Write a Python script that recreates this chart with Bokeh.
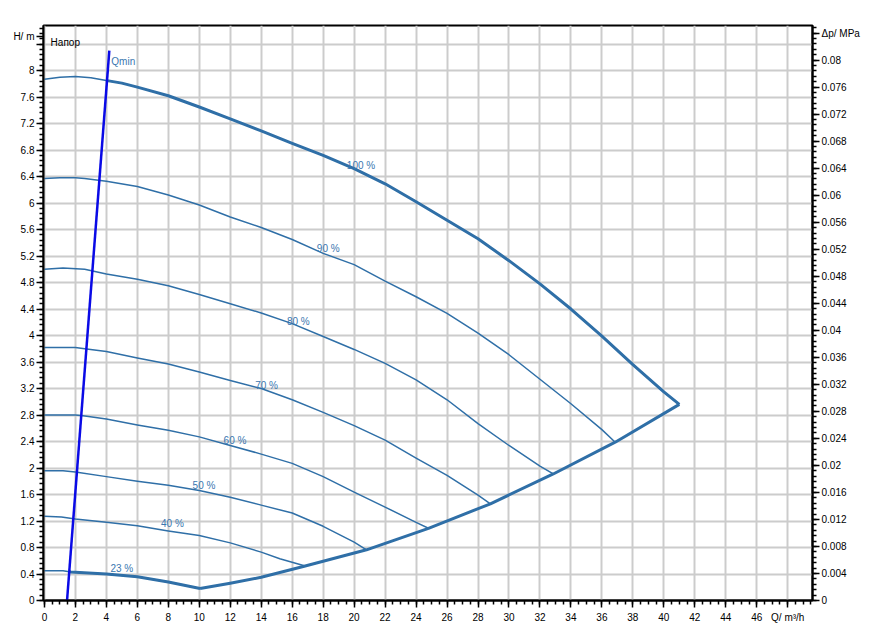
import numpy as np
from bokeh.plotting import figure
from bokeh.models import (Range1d, LinearAxis, SingleIntervalTicker, FixedTicker,
                          CustomJSTickFormatter, Label, ColumnDataSource)
from bokeh.core.properties import value
from bokeh.embed import file_html
from bokeh.resources import INLINE

# ---------------- data (Q in m3/h, H in m) ----------------
q100 = [0, 1, 2, 3, 4, 5, 6, 8, 10, 12, 14, 16, 18, 20, 22, 24, 26, 28, 30, 32, 34, 36, 38, 40, 41.0]
h100 = [7.87, 7.90, 7.91, 7.89, 7.85, 7.81, 7.75, 7.62, 7.45, 7.27, 7.09, 6.90, 6.72, 6.52, 6.29,
        6.02, 5.74, 5.46, 5.13, 4.78, 4.40, 3.99, 3.56, 3.15, 2.96]

q90 = [0, 1, 2, 2.6, 4, 6, 8, 10, 12, 14, 16, 18, 20, 22, 24, 26, 28, 30, 32, 34, 36, 36.86]
h90 = [6.37, 6.38, 6.38, 6.37, 6.33, 6.25, 6.12, 5.97, 5.79, 5.63, 5.45, 5.24, 5.07, 4.82,
       4.585, 4.335, 4.035, 3.71, 3.34, 2.97, 2.58, 2.39]

q80 = [0, 1.2, 2.6, 4, 6, 8, 10, 12, 14, 16, 18, 20, 22, 24, 26, 28, 30, 32, 32.86]
h80 = [5.00, 5.02, 5.00, 4.93, 4.85, 4.75, 4.62, 4.48, 4.34, 4.18, 3.985, 3.79, 3.58, 3.33,
       3.03, 2.67, 2.34, 2.03, 1.91]

q70 = [0, 2, 2.6, 4, 6, 8, 10, 12, 14, 16, 18, 20, 22, 24, 26, 28, 28.8]
h70 = [3.82, 3.82, 3.80, 3.76, 3.66, 3.57, 3.45, 3.32, 3.20, 3.03, 2.84, 2.64, 2.42, 2.15,
       1.89, 1.59, 1.46]

q60 = [0, 2, 2.5, 4, 6, 8, 10, 12, 14, 16, 18, 20, 22, 24, 24.8]
h60 = [2.80, 2.80, 2.79, 2.74, 2.65, 2.57, 2.47, 2.34, 2.21, 2.07, 1.87, 1.635, 1.41, 1.18, 1.09]

q50 = [0, 1.2, 2, 4, 6, 8, 10, 12, 14, 16, 18, 20, 20.8]
h50 = [1.96, 1.96, 1.94, 1.87, 1.80, 1.74, 1.66, 1.56, 1.44, 1.32, 1.12, 0.88, 0.765]

q40 = [0, 1.1, 2, 4, 6, 8, 10, 12, 14, 15.2, 16.84]
h40 = [1.27, 1.26, 1.23, 1.18, 1.13, 1.05, 0.98, 0.87, 0.73, 0.63, 0.52]

q23 = [0, 1.2, 1.7, 4, 6, 8, 10.05]
h23 = [0.45, 0.45, 0.43, 0.40, 0.36, 0.28, 0.18]

# max-flow boundary
q_env = [10.05, 12, 14, 16.84, 20.8, 24.8, 28.8, 32.86, 36.86, 41.0]
h_env = [0.18, 0.26, 0.35, 0.52, 0.765, 1.09, 1.46, 1.91, 2.39, 2.96]

# Qmin line
qmin_q = [1.46, 4.19]
qmin_h = [0.0, 8.30]

curve_names = ["100 %", "90 %", "80 %", "70 %", "60 %", "50 %", "40 %", "23 %"]
curves_q = [q100, q90, q80, q70, q60, q50, q40, q23]
curves_h = [h100, h90, h80, h70, h60, h50, h40, h23]

# label anchors (Q, H)
lab_q = [19.53, 17.59, 15.66, 13.61, 11.57, 9.57, 7.53, 4.26]
lab_h = [6.566, 5.309, 4.216, 3.245, 2.415, 1.736, 1.158, 0.478]

x_label = "Q/ m³/h"
h_label = "H/ m"
dp_label = "Δp/ MPa"
x_ticks_step = 2
h_ticks_step = 0.4
dp_ticks_step = 0.004
MPA_PER_M = 0.00980665

# ---------------- figure ----------------
FONT = "Liberation Sans"
BLUE = "#2f6fa7"
TXT_BLUE = "#3a77b0"

H_TOP = 8.68
X_MIN, X_MAX = -0.06, 49.6
p = figure(width=875, height=638, output_backend="svg", toolbar_location=None,
           x_range=Range1d(X_MIN, X_MAX), y_range=Range1d(0, H_TOP),
           min_border_left=43, min_border_right=63, min_border_top=25,
           min_border_bottom=38, background_fill_color="white",
           border_fill_color="white")
p.outline_line_color = "black"
p.outline_line_width = 2

# right axis: pressure difference
p.extra_y_ranges = {"dp": Range1d(0, H_TOP * MPA_PER_M)}
rax = LinearAxis(y_range_name="dp",
                 ticker=SingleIntervalTicker(interval=dp_ticks_step, num_minor_ticks=5),
                 formatter=CustomJSTickFormatter(
                     args=dict(lab=dp_label),
                     code="if (Math.abs(tick - 0.084) < 1e-7) return lab;"
                          "return parseFloat(tick.toFixed(4)).toString();"))
p.add_layout(rax, "right")

# bottom axis
p.xaxis.ticker = SingleIntervalTicker(interval=x_ticks_step, num_minor_ticks=4)
p.xaxis.formatter = CustomJSTickFormatter(
    args=dict(lab=x_label),
    code="return tick > 47 ? lab : Math.round(tick).toString();")

# left axis
h_major = [round(i * h_ticks_step, 2) for i in range(22)]
h_minor = [round(i * h_ticks_step / 5, 3) for i in range(109)]
p.yaxis[0].ticker = FixedTicker(ticks=h_major + [8.52], minor_ticks=h_minor)
p.yaxis[0].formatter = CustomJSTickFormatter(
    args=dict(lab=h_label),
    code="if (Math.abs(tick - 8.52) < 1e-6) return lab;"
         "if (Math.abs(tick - 8.4) < 1e-6) return '';"
         "return parseFloat(tick.toFixed(2)).toString();")

for ax in [p.xaxis[0], p.yaxis[0], rax]:
    ax.axis_line_color = "black"
    ax.axis_line_width = 2
    ax.major_tick_out = 7
    ax.major_tick_in = 0
    ax.minor_tick_out = 4
    ax.minor_tick_in = 0
    ax.major_tick_line_width = 1.5
    ax.minor_tick_line_width = 1.5
    ax.major_tick_line_color = "black"
    ax.minor_tick_line_color = "black"
    ax.major_label_text_font = FONT
    ax.major_label_text_font_size = "10px"
    ax.major_label_text_color = "black"
p.xaxis.major_label_standoff = 4
p.yaxis[0].major_label_standoff = 2
rax.major_label_standoff = 2

p.xgrid.ticker = SingleIntervalTicker(interval=x_ticks_step)
p.ygrid.ticker = SingleIntervalTicker(interval=h_ticks_step)
p.grid.grid_line_color = "#cccccc"
p.grid.grid_line_width = 2


def split_at_qmin(qs, hs):
    qs = np.asarray(qs, float)
    hs = np.asarray(hs, float)
    qq = np.linspace(qs[0], qs[-1], 4000)
    hh = np.interp(qq, qs, hs)
    slope = (qmin_q[1] - qmin_q[0]) / (qmin_h[1] - qmin_h[0])
    f = qq - (qmin_q[0] + (hh - qmin_h[0]) * slope)
    i = int(np.argmax(f >= 0))
    qi, hi = qq[i], hh[i]
    m = qs > qi
    return np.concatenate([[qi], qs[m]]), np.concatenate([[hi], hs[m]])


# thin curves
for qs, hs in zip(curves_q, curves_h):
    p.line(qs, hs, line_color=BLUE, line_width=1.5, line_join="round")

# thick boundary parts (max speed, min speed, max flow)
for qs, hs in [(q100, h100), (q23, h23)]:
    tq, th = split_at_qmin(qs, hs)
    p.line(tq, th, line_color=BLUE, line_width=3, line_join="round")
p.line(q_env, h_env, line_color=BLUE, line_width=3, line_join="round")

# Qmin
p.line(qmin_q, qmin_h, line_color="#0a0ae6", line_width=2.5)

# curve labels
src = ColumnDataSource(dict(x=lab_q + [4.32], y=lab_h + [8.14], t=curve_names + ["Qmin"]))
p.text(x="x", y="y", text="t", source=src, text_font=value(FONT), text_font_size="10px",
       text_color=TXT_BLUE, text_align="left", text_baseline="middle")

p.add_layout(Label(x=0.4, y=8.42, text="Напор", text_font=FONT, text_font_size="10px",
                   text_color="black", text_align="left", text_baseline="middle"))

open("out.html", "w").write(file_html(p, INLINE))
